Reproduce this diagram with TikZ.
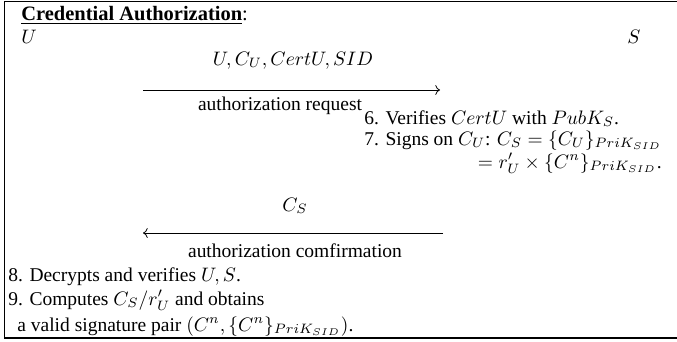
\documentclass[tikz,border=0pt]{standalone}
\usepackage[no-math]{fontspec}
\setmainfont{Liberation Serif}
\usetikzlibrary{arrows.meta}
\begin{document}
\begin{tikzpicture}[x=0.513pt,y=-0.513pt,
  txt/.style={inner sep=0pt, anchor=base west, font=\fontsize{10}{12}\selectfont},
  ctxt/.style={txt, anchor=base},
  rtxt/.style={txt, anchor=base east},
  msg/.style={line width=0.4pt, -{To[length=2.4pt,width=5pt]}},
  frame/.style={line width=0.6pt}]
\useasboundingbox (0,0) rectangle (677,341);
% frame
\coordinate (ftr) at (677,1.5);
\coordinate (ftl) at (4.5,1.5);
\coordinate (fbl) at (4.5,338);
\coordinate (fbr) at (677,338);
\draw[frame] (ftr) -- (ftl) -- (fbl) -- (fbr);
% title and parties
\node[txt, font=\fontsize{10.5}{13}\selectfont] (title) at (21,20) {\textbf{\underline{Credential Authorization}}:};
\node[txt] (U) at (21,43) {$U$};
\node[txt] (S) at (627,43) {$S$};
% message 1
\node[ctxt] (m1) at (293,65) {$U, C_U, CertU, SID$};
\coordinate (a1s) at (143,90);
\coordinate (a1e) at (440,90);
\draw[msg] (a1s) -- (a1e);
\node[ctxt] (l1) at (280,110) {authorization request};
% server steps
\node[txt] (s6) at (364,124) {6. Verifies $CertU$ with $PubK_S$.};
\node[txt] (s7) at (364,145) {7. Signs on $C_U$: $C_S = \{C_U\}_{PriK_{SID}}$};
\node[rtxt] (s7b) at (662,168) {$= r'_U \times \{C^n\}_{PriK_{SID}}$.};
% message 2
\node[ctxt] (m2) at (295,211) {$C_S$};
\coordinate (a2s) at (443,233);
\coordinate (a2e) at (143,233);
\draw[msg] (a2s) -- (a2e);
\node[ctxt] (l2) at (295,257) {authorization comfirmation};
% user steps
\node[txt] (s8) at (8,281) {8. Decrypts and verifies $U, S$.};
\node[txt] (s9) at (8,305) {9. Computes $C_S/r'_U$ and obtains};
\node[txt] (s9b) at (17,331) {a valid signature pair $(C^n, \{C^n\}_{PriK_{SID}})$.};
\end{tikzpicture}
\end{document}
